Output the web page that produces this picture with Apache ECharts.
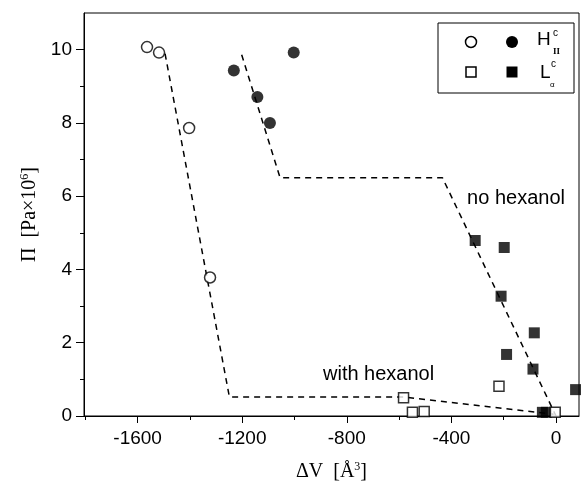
<!DOCTYPE html>
<html>
<head>
<meta charset="utf-8">
<script src="https://cdn.jsdelivr.net/npm/echarts@6/dist/echarts.min.js"></script>
<style>html,body{margin:0;padding:0;background:#fff}#c{width:581px;height:491px}</style>
</head>
<body>
<div id="c"></div>
<script>
// ---- data (ΔV in Å^3, Π in 10^6 Pa) ----
const hIIWithHexanol = [[-1564, 10.07], [-1518, 9.92], [-1403, 7.86], [-1323, 3.78]];
const hIINoHexanol   = [[-1232, 9.43], [-1142, 8.71], [-1094, 8.0], [-1003, 9.92]];
const lANoHexanol    = [[-309, 4.79], [-198, 4.6], [-210, 3.27], [-83, 2.27], [-189, 1.68], [-88, 1.28], [75, 0.72], [-52, 0.1], [-37, 0.1]];
const lAWithHexanol  = [[-583, 0.5], [-549, 0.1], [-504, 0.12], [-218, 0.81], [-3, 0.1]];
const guideNoHexanol   = [[-1202, 9.86], [-1055, 6.5], [-434, 6.5], [0, 0]];
const guideWithHexanol = [[-1495, 9.89], [-1249, 0.52], [-584, 0.52], [-9, 0.05]];
const xMajorTicks = [-1600, -1200, -800, -400, 0];
const xMinorTicks = [-1800, -1400, -1000, -600, -200];
const yMajorTicks = [0, 2, 4, 6, 8, 10];
const yMinorTicks = [1, 3, 5, 7, 9];

const sans = 'Liberation Sans, Arial, sans-serif';
const serif = 'Liberation Serif, Times New Roman, serif';
const X_MIN = -1805, X_MAX = 88, Y_MIN = 0, Y_MAX = 11;

const chart = echarts.init(document.getElementById('c'), null, {renderer: 'canvas'});

const baseX = {type: 'value', min: X_MIN, max: X_MAX, position: 'bottom', splitLine: {show: false}};
const baseY = {type: 'value', min: Y_MIN, max: Y_MAX, position: 'left', splitLine: {show: false}};
const plain = v => String(v);

const option = {
  animation: false,
  backgroundColor: '#fff',
  grid: {left: 84, right: 2, top: 13, bottom: 75, show: true, borderColor: '#000', borderWidth: 1},
  xAxis: [
    Object.assign({}, baseX, {
      axisLine: {show: true, onZero: false, lineStyle: {color: '#000', width: 1}},
      axisTick: {show: true, customValues: xMajorTicks, length: 7, lineStyle: {color: '#000', width: 1}},
      axisLabel: {show: true, customValues: xMajorTicks, formatter: plain, color: '#000', fontFamily: sans, fontSize: 19, margin: 13},
      name: 'ΔV  [Å{sup|3}]', nameLocation: 'middle', nameGap: 45,
      nameTextStyle: {color: '#000', fontFamily: serif, fontSize: 20,
        rich: {sup: {fontFamily: serif, fontSize: 12, color: '#000', verticalAlign: 'top', padding: [0, 0, 10, 0]}}}
    }),
    Object.assign({}, baseX, {
      axisLine: {show: false, onZero: false},
      axisTick: {show: true, customValues: xMinorTicks, length: 4, lineStyle: {color: '#000', width: 1}},
      axisLabel: {show: false}
    })
  ],
  yAxis: [
    Object.assign({}, baseY, {
      axisLine: {show: true, onZero: false, lineStyle: {color: '#000', width: 1}},
      axisTick: {show: true, customValues: yMajorTicks, length: 8, lineStyle: {color: '#000', width: 1}},
      axisLabel: {show: true, customValues: yMajorTicks, formatter: plain, color: '#000', fontFamily: sans, fontSize: 19, margin: 12},
      name: 'Π  [Pa×10{sup|6}]', nameLocation: 'middle', nameGap: 36, nameRotate: 90,
      nameTextStyle: {color: '#000', fontFamily: serif, fontSize: 20,
        rich: {sup: {fontFamily: serif, fontSize: 12, color: '#000', verticalAlign: 'top', padding: [0, 0, 10, 0]}}}
    }),
    Object.assign({}, baseY, {
      axisLine: {show: false, onZero: false},
      axisTick: {show: true, customValues: yMinorTicks, length: 4, lineStyle: {color: '#000', width: 1}},
      axisLabel: {show: false}
    })
  ],
  series: [
    {type: 'line', data: guideNoHexanol, symbol: 'none', silent: true, z: 1,
      lineStyle: {color: '#000', width: 1.5, type: [6, 5]}},
    {type: 'line', data: guideWithHexanol, symbol: 'none', silent: true, z: 1,
      lineStyle: {color: '#000', width: 1.5, type: [6, 5]}},
    {type: 'scatter', data: hIIWithHexanol, symbol: 'circle', symbolSize: 11, z: 3,
      itemStyle: {color: '#fff', borderColor: '#000', borderWidth: 1.5}},
    {type: 'scatter', data: hIINoHexanol, symbol: 'circle', symbolSize: 12, z: 3,
      itemStyle: {color: '#000'}},
    {type: 'scatter', data: lANoHexanol, symbol: 'rect', symbolSize: 11, z: 3,
      itemStyle: {color: '#000'}},
    {type: 'scatter', data: lAWithHexanol, symbol: 'rect', symbolSize: 10, z: 4,
      itemStyle: {color: '#fff', borderColor: '#000', borderWidth: 1.5}}
  ]
};
chart.setOption(option);

// annotations anchored in data space
const noPos = chart.convertToPixel({xAxisIndex: 0, yAxisIndex: 0}, [-340, 5.94]);
const withPos = chart.convertToPixel({xAxisIndex: 0, yAxisIndex: 0}, [-891, 1.14]);

const lx = 438, ly = 23;
chart.setOption({
  graphic: [
    {type: 'text', x: noPos[0], y: noPos[1], z: 10,
      style: {text: 'no hexanol', fill: '#000', font: '20px ' + sans, textVerticalAlign: 'middle'}},
    {type: 'text', x: withPos[0], y: withPos[1], z: 10,
      style: {text: 'with hexanol', fill: '#000', font: '20px ' + sans, textVerticalAlign: 'middle'}},
    // legend box
    {type: 'rect', shape: {x: lx, y: ly, width: 136, height: 70}, z: 10,
      style: {fill: '#fff', stroke: '#000', lineWidth: 1}},
    {type: 'circle', shape: {cx: 471, cy: 42, r: 5.5}, z: 11, style: {fill: '#fff', stroke: '#000', lineWidth: 1.5}},
    {type: 'circle', shape: {cx: 512, cy: 42, r: 6}, z: 11, style: {fill: '#000'}},
    {type: 'text', x: 537, y: 40, z: 11, style: {text: 'H', fill: '#000', font: '19px ' + sans, textVerticalAlign: 'middle'}},
    {type: 'text', x: 553, y: 33, z: 11, style: {text: 'c', fill: '#000', font: '10px ' + sans, textVerticalAlign: 'middle'}},
    {type: 'text', x: 553, y: 52, z: 11, style: {text: 'II', fill: '#000', font: 'bold 9px ' + serif, textVerticalAlign: 'middle'}},
    {type: 'rect', shape: {x: 466, y: 67, width: 10, height: 10}, z: 11, style: {fill: '#fff', stroke: '#000', lineWidth: 1.5}},
    {type: 'rect', shape: {x: 506.5, y: 66.5, width: 11, height: 11}, z: 11, style: {fill: '#000'}},
    {type: 'text', x: 540, y: 73, z: 11, style: {text: 'L', fill: '#000', font: '19px ' + sans, textVerticalAlign: 'middle'}},
    {type: 'text', x: 551, y: 64, z: 11, style: {text: 'c', fill: '#000', font: '10px ' + sans, textVerticalAlign: 'middle'}},
    {type: 'text', x: 550, y: 85, z: 11, style: {text: 'α', fill: '#000', font: '8px ' + sans, textVerticalAlign: 'middle'}}
  ]
});
</script>
</body>
</html>
